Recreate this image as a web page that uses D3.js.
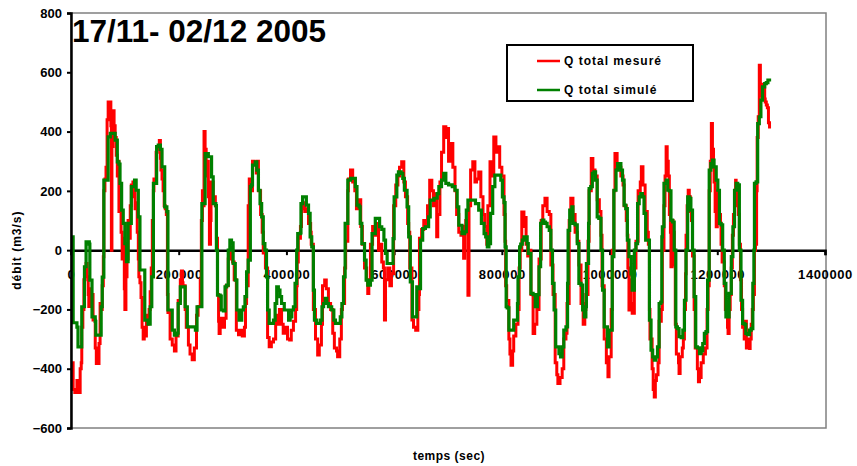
<!DOCTYPE html>
<html>
<head>
<meta charset="utf-8">
<script src="https://cdn.jsdelivr.net/npm/d3@7"></script>
<style>
  body { margin: 0; background: #fff; }
  svg { display: block; font-family: 'Liberation Sans', Arial, sans-serif; }
  .axis text { font-size: 13px; font-weight: bold; fill: #000; }
  .label { font-size: 12px; font-weight: bold; }
</style>
</head>
<body>
<svg width="857" height="466"></svg>
<script>
// time in thousands of seconds, flow in m3/s
const simulated = [
  [2,45],[4,-245],[11,-260],[13,-326],[19,-326],[20,-191],[24,-191],[25,-56],[28,28],[34,20],[35,-101],[39,-225],[45,-240],[46,-287],[55,-287],[56,-191],[58,-91],[61,236],[65,236],[69,382],[73,394],[80,394],[82,371],[86,298],[89,290],[91,225],[94,135],[97,90],[100,22],[103,-39],[106,90],[112,214],[118,236],[121,202],[125,112],[128,-67],[134,-67],[137,-236],[143,-250],[147,-191],[150,-90],[153,225],[156,225],[159,349],[162,354],[166,340],[169,281],[174,146],[178,130],[180,-202],[188,-270],[192,-287],[197,-280],[199,-180],[203,-124],[207,-124],[212,-191],[216,-259],[231,-270],[234,-191],[238,-191],[243,157],[249,326],[255,315],[261,247],[264,157],[269,150],[270,0],[272,-152],[277,-155],[279,-202],[283,-205],[286,-124],[289,-118],[292,0],[295,34],[298,25],[301,-45],[305,-101],[308,-202],[312,-236],[317,-202],[320,-191],[323,-157],[326,-73],[329,-34],[333,214],[335,220],[337,287],[342,298],[345,270],[348,202],[351,157],[354,112],[357,22],[360,0],[363,-90],[365,-202],[368,-247],[373,-247],[376,-236],[379,-180],[382,-124],[385,-135],[388,-157],[391,-180],[396,-202],[401,-202],[404,-236],[407,-225],[410,-202],[413,-191],[416,-112],[419,0],[421,56],[426,58],[427,157],[430,180],[435,180],[437,152],[441,124],[444,45],[447,11],[450,-135],[452,-236],[456,-247],[460,-247],[463,-236],[466,-191],[469,-180],[472,-163],[475,-180],[478,-191],[484,-202],[488,-236],[491,-247],[497,-247],[500,-225],[503,-180],[506,-90],[509,90],[512,90],[514,236],[519,242],[525,242],[528,214],[531,152],[535,146],[537,90],[540,22],[545,-34],[548,-101],[551,-118],[556,-101],[559,56],[562,56],[565,107],[570,107],[573,79],[577,70],[581,34],[584,-11],[587,-45],[596,-45],[598,39],[600,180],[605,253],[608,264],[613,259],[616,242],[619,202],[624,146],[627,45],[630,-107],[634,-225],[639,-225],[642,-124],[647,-130],[649,34],[653,73],[658,79],[664,112],[667,169],[674,175],[680,191],[683,214],[688,236],[692,259],[696,225],[701,220],[708,214],[713,202],[717,146],[720,84],[726,56],[731,62],[734,135],[737,169],[745,169],[751,157],[757,135],[762,90],[767,56],[770,45],[773,11],[776,22],[779,124],[783,214],[787,253],[795,253],[798,236],[801,180],[804,160],[806,11],[808,-191],[810,-195],[813,-270],[821,-270],[822,-236],[826,-236],[829,-180],[830,-90],[833,11],[835,20],[838,34],[841,45],[844,45],[847,22],[849,-11],[854,-146],[858,-150],[862,-191],[866,-150],[869,-56],[872,90],[875,101],[878,95],[881,90],[884,79],[888,67],[891,0],[894,-112],[897,-202],[900,-326],[906,-349],[909,-360],[912,-326],[915,-270],[919,-259],[922,-112],[923,67],[926,135],[930,146],[932,90],[936,85],[940,22],[943,-112],[947,-118],[950,-202],[953,-225],[956,-191],[957,-45],[961,90],[962,208],[965,214],[968,259],[971,264],[974,236],[977,112],[980,107],[984,0],[987,-135],[990,-259],[996,-326],[999,-270],[1002,-270],[1005,-22],[1008,202],[1012,270],[1015,292],[1018,292],[1021,270],[1024,236],[1027,152],[1030,140],[1033,34],[1036,-22],[1040,-80],[1042,-135],[1046,0],[1049,22],[1052,157],[1055,180],[1058,191],[1061,180],[1064,124],[1067,34],[1070,34],[1074,-236],[1077,-337],[1080,-360],[1083,-371],[1086,-360],[1089,-326],[1092,-180],[1095,-175],[1097,45],[1098,79],[1101,225],[1105,236],[1108,202],[1111,200],[1114,101],[1117,95],[1120,0],[1123,-259],[1126,-265],[1129,-292],[1133,-295],[1136,-270],[1139,-169],[1142,0],[1145,180],[1148,175],[1151,135],[1154,0],[1157,-157],[1160,-326],[1163,-330],[1167,-349],[1170,-340],[1173,-315],[1176,-281],[1179,-275],[1182,-101],[1185,270],[1188,292],[1191,304],[1194,281],[1198,236],[1201,202],[1204,90],[1207,85],[1210,0],[1213,-112],[1216,-225],[1219,-225],[1222,-146],[1226,-22],[1229,79],[1232,202],[1235,225],[1238,220],[1241,0],[1244,-169],[1247,-247],[1250,-250],[1253,-281],[1256,-285],[1260,-270],[1263,-265],[1266,-112],[1268,0],[1269,225],[1272,230],[1275,427],[1278,450],[1281,506],[1284,551],[1288,562],[1291,565],[1294,574],[1297,579]
];

const measured = [
  [2,-380],[4,-470],[7,-480],[11,-440],[13,-480],[17,-400],[19,-380],[20,-260],[22,-200],[24,-100],[26,-60],[28,-45],[30,-90],[32,-150],[33,-190],[35,-130],[37,-150],[41,-236],[45,-330],[47,-382],[48,-360],[50,-382],[52,-315],[54,-180],[56,-200],[58,-120],[60,-22],[61,200],[63,240],[65,280],[67,440],[69,500],[71,470],[73,500],[74,420],[75,0],[76,350],[78,470],[80,420],[82,380],[84,320],[86,250],[87,300],[89,130],[91,200],[93,60],[95,-30],[97,40],[99,-130],[100,-200],[102,-90],[104,-30],[106,100],[108,40],[110,150],[112,220],[113,180],[115,230],[117,200],[119,140],[121,160],[123,60],[125,-30],[126,-90],[128,-110],[130,-160],[132,-260],[134,-300],[136,-260],[138,-290],[140,-220],[141,-250],[143,-230],[145,-200],[147,-140],[149,-60],[151,100],[153,200],[154,240],[156,230],[158,330],[160,350],[162,340],[164,370],[166,310],[167,270],[169,240],[171,200],[173,150],[175,140],[177,120],[179,-150],[180,-210],[184,-300],[188,-320],[192,-340],[195,-290],[199,-170],[203,-100],[205,-70],[207,-110],[208,-120],[212,-200],[214,-260],[218,-320],[221,-350],[225,-370],[229,-330],[233,-220],[236,-190],[240,-100],[242,100],[244,200],[246,150],[247,400],[249,340],[251,250],[253,300],[255,180],[257,20],[259,100],[260,230],[264,180],[268,150],[270,40],[272,-150],[274,-240],[275,-281],[277,-230],[281,-260],[285,-230],[288,-120],[292,-30],[296,10],[300,-40],[303,-100],[307,-270],[311,-285],[314,-270],[318,-290],[322,-260],[324,-180],[326,-120],[329,150],[331,240],[335,200],[337,300],[340,290],[344,260],[346,300],[348,200],[352,120],[355,60],[357,-10],[361,-60],[365,-295],[368,-326],[372,-310],[376,-300],[380,-220],[383,-250],[387,-200],[391,-250],[394,-280],[398,-260],[402,-300],[406,-303],[409,-270],[413,-240],[417,-200],[419,-120],[420,-40],[422,40],[426,80],[428,140],[430,160],[434,130],[437,140],[441,90],[445,60],[446,20],[450,-200],[454,-300],[458,-354],[461,-320],[465,-250],[467,-120],[471,-101],[474,-130],[478,-180],[482,-200],[486,-280],[489,-330],[493,-340],[495,-360],[499,-300],[502,-200],[504,-180],[508,-60],[510,30],[514,200],[515,240],[519,270],[523,230],[527,200],[530,140],[534,170],[538,80],[541,20],[545,-60],[549,-100],[551,-146],[553,-110],[556,20],[560,80],[564,50],[567,90],[571,0],[575,20],[577,-40],[580,-60],[582,-236],[584,-100],[588,-60],[592,-120],[595,-80],[599,150],[603,220],[607,250],[610,280],[614,298],[618,230],[621,180],[625,90],[627,60],[629,-60],[633,-236],[636,-260],[640,-270],[644,-200],[646,-150],[647,40],[651,70],[655,100],[659,80],[662,150],[666,236],[670,200],[673,150],[675,190],[679,45],[681,120],[685,230],[688,330],[692,416],[696,380],[700,410],[701,300],[705,360],[709,280],[713,200],[716,120],[720,60],[724,50],[727,80],[729,-27],[731,60],[733,100],[735,80],[737,-152],[739,150],[742,270],[746,298],[750,230],[753,240],[757,264],[761,180],[765,120],[768,80],[772,20],[774,150],[778,298],[781,250],[785,382],[789,330],[793,349],[796,280],[800,250],[804,120],[806,30],[807,-120],[809,-170],[813,-300],[815,-350],[817,-388],[820,-340],[822,-290],[826,-250],[830,-200],[832,-60],[834,0],[837,129],[841,80],[843,110],[845,20],[848,-20],[850,0],[854,-150],[858,-281],[861,-250],[865,-200],[869,-30],[873,100],[876,150],[880,175],[884,130],[888,120],[891,-50],[895,-150],[899,-380],[902,-420],[904,-450],[908,-430],[912,-400],[915,-300],[919,-280],[921,-180],[925,100],[928,175],[932,120],[936,60],[940,30],[943,-50],[947,-180],[951,-250],[954,-200],[956,-150],[960,30],[962,200],[966,309],[969,270],[973,250],[977,170],[981,130],[984,50],[986,-120],[990,-300],[994,-380],[997,-427],[999,-360],[1003,-200],[1005,0],[1008,200],[1010,326],[1014,290],[1018,280],[1021,250],[1025,220],[1027,150],[1031,100],[1033,50],[1034,-60],[1036,-202],[1038,-100],[1040,-180],[1042,-213],[1046,-60],[1049,30],[1053,200],[1057,230],[1059,281],[1062,220],[1066,130],[1070,60],[1072,20],[1074,-200],[1075,-300],[1079,-400],[1081,-470],[1083,-495],[1085,-440],[1087,-420],[1090,-380],[1092,-240],[1096,-200],[1098,0],[1101,150],[1103,250],[1105,349],[1107,300],[1109,250],[1111,120],[1113,60],[1114,-56],[1116,100],[1118,60],[1120,-50],[1122,-250],[1124,-350],[1128,-380],[1129,-416],[1131,-360],[1135,-330],[1137,-300],[1139,-200],[1141,-80],[1142,50],[1144,150],[1146,202],[1148,180],[1150,130],[1152,100],[1154,-20],[1157,-200],[1159,-330],[1163,-400],[1165,-444],[1167,-400],[1168,-430],[1170,-380],[1174,-350],[1178,-330],[1181,-200],[1183,-120],[1185,200],[1187,300],[1189,427],[1191,340],[1193,280],[1194,230],[1196,130],[1198,79],[1200,200],[1202,180],[1204,120],[1206,90],[1207,20],[1209,-40],[1213,-120],[1215,-200],[1217,-180],[1219,-260],[1220,-281],[1222,-200],[1224,-150],[1226,-60],[1228,50],[1230,120],[1232,180],[1234,236],[1235,150],[1237,200],[1239,120],[1241,20],[1243,-100],[1245,-200],[1247,-260],[1250,-300],[1252,-240],[1254,-330],[1256,-300],[1258,-310],[1260,-332],[1261,-300],[1263,-250],[1265,-200],[1267,-150],[1269,0],[1271,20],[1273,200],[1274,380],[1276,450],[1278,624],[1280,520],[1282,560],[1284,540],[1286,560],[1288,510],[1289,500],[1291,490],[1293,480],[1295,430],[1297,410]
];

const xTicks = [0, 200000, 400000, 600000, 800000, 1000000, 1200000, 1400000];
const yTicks = [-600, -400, -200, 0, 200, 400, 600, 800];
const seriesNames = ['Q total mesuré', 'Q total simulé'];
const seriesColors = ['#ff0000', '#008000'];

const svg = d3.select('svg');

const plotLeft = 71, plotRight = 825, plotTop = 13, plotBottom = 428;

const x = d3.scaleLinear().domain([0, 1400000]).range([plotLeft, plotRight]);
const y = d3.scaleLinear().domain([-600, 800]).range([plotBottom, plotTop]);

// plot area frame (grey)
svg.append('rect')
    .attr('x', plotLeft).attr('y', plotTop)
    .attr('width', x(1400000) - plotLeft + 1).attr('height', plotBottom - plotTop)
    .attr('fill', 'none').attr('stroke', '#808080').attr('stroke-width', 1.5);

// the series are sampled values, drawn as stairs
const line = d3.line()
    .curve(d3.curveStepAfter)
    .x(d => x(d[0] * 1000))
    .y(d => y(d[1]));

// x axis sits on the zero line
const xAxis = svg.append('g')
    .attr('class', 'axis')
    .attr('transform', `translate(0, ${y(0)})`)
    .call(d3.axisBottom(x).tickValues(xTicks).tickSize(5).tickPadding(15).tickFormat(d3.format('d')));
xAxis.select('.domain').attr('stroke', '#000').attr('stroke-width', 2.5);
xAxis.selectAll('.tick line').attr('stroke', '#000').attr('stroke-width', 2);
xAxis.selectAll('text').style('letter-spacing', '0.6px');

svg.append('path')
    .datum(measured)
    .attr('fill', 'none')
    .attr('stroke', seriesColors[0])
    .attr('stroke-width', 3)
    .attr('d', line);

svg.append('path')
    .datum(simulated)
    .attr('fill', 'none')
    .attr('stroke', seriesColors[1])
    .attr('stroke-width', 3.2)
    .attr('d', line);

const yAxis = svg.append('g')
    .attr('class', 'axis')
    .attr('transform', `translate(${plotLeft}, 0)`)
    .call(d3.axisLeft(y).tickValues(yTicks).tickSize(4).tickPadding(5));
yAxis.select('.domain').attr('stroke', '#000').attr('stroke-width', 2.5);
yAxis.selectAll('.tick line').attr('stroke', '#000').attr('stroke-width', 2);

// title
svg.append('text')
    .attr('x', 72).attr('y', 42)
    .style('font-size', '31.5px').style('font-weight', 'bold')
    .text('17/11- 02/12 2005');

// legend
const legend = svg.append('g').attr('transform', 'translate(507, 45)');
legend.append('rect')
    .attr('width', 186).attr('height', 56)
    .attr('fill', '#fff').attr('stroke', '#000').attr('stroke-width', 2);
seriesNames.forEach((name, i) => {
    const ly = 16 + i * 29;
    legend.append('line')
        .attr('x1', 30).attr('x2', 53).attr('y1', ly).attr('y2', ly)
        .attr('stroke', seriesColors[i]).attr('stroke-width', 2.5);
    legend.append('text')
        .attr('class', 'label')
        .attr('x', 57).attr('y', ly + 4)
        .style('letter-spacing', '1px')
        .text(name);
});

// axis titles
svg.append('text')
    .attr('class', 'label')
    .attr('transform', `translate(21, ${y(0)}) rotate(-90)`)
    .attr('text-anchor', 'middle')
    .style('letter-spacing', '1px')
    .text('débit (m3/s)');

svg.append('text')
    .attr('class', 'label')
    .attr('x', 449).attr('y', 460)
    .attr('text-anchor', 'middle')
    .style('letter-spacing', '0.5px')
    .text('temps (sec)');
</script>
</body>
</html>
